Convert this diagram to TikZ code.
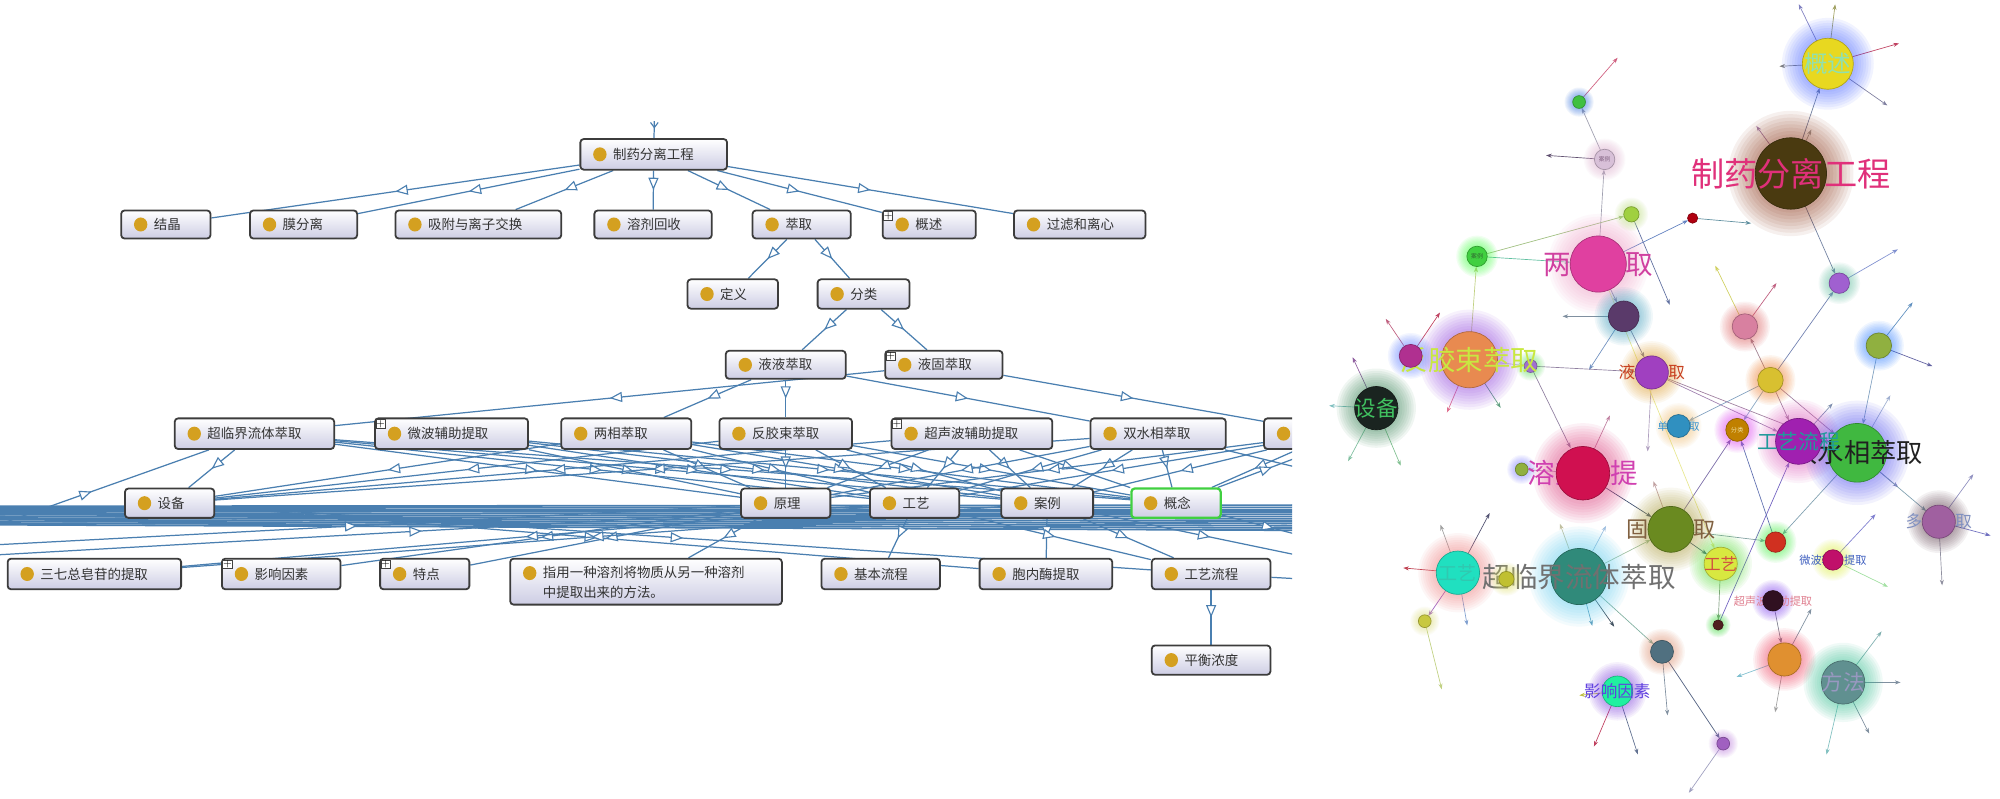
\documentclass[tikz,border=0pt]{standalone}
\usepackage{fontspec}
\newfontfamily\cjk{Noto Sans CJK SC}
\usetikzlibrary{arrows.meta,decorations.markings,calc}
\pgfdeclarelayer{bg}
\pgfdeclarelayer{edges}
\pgfsetlayers{bg,edges,main}
\definecolor{edgeb}{HTML}{4A7FB0}
\definecolor{goldc}{HTML}{D4A020}
\definecolor{boxline}{HTML}{3C3C3C}
\definecolor{boxbot}{HTML}{CDCDE4}
\definecolor{lbt}{HTML}{333333}
\definecolor{greenb}{HTML}{40D040}
\tikzset{
  edge/.style={edgeb, line width=0.55pt},
  midarr/.style={postaction={decorate}, decoration={markings, mark=at position 0.5 with {\arrow{Triangle[fill=white, length=5.5pt, width=4.5pt, line width=0.5pt]}}}},
  leftbox/.style={draw=boxline, line width=0.8pt, rounded corners=1.5pt, top color=white, bottom color=boxbot, inner sep=0pt},
  lbtext/.style={text=lbt, font=\cjk\fontsize{6}{9}\selectfont, inner sep=0pt},
  plusbox/.style={draw=black!75, fill=white, line width=0.3pt, minimum size=0.13cm, inner sep=0pt, font=\fontsize{4}{4}\selectfont},
  spk/.style={line width=0.3pt, -{Stealth[length=2.5pt,width=1.8pt]}},
}
\newcommand\mkbox[6]{%
  \node[leftbox, minimum width={(#3-#2)*0.02cm}, minimum height={(#5-#4)*0.02cm}] (#1) at ({(#2+#3)/2},{(#4+#5)/2}) {};
  \fill[goldc] ($(#1.west)+(16,0)$) ellipse[x radius=0.105cm, y radius=0.11cm];
  \node[lbtext, anchor=west] (#1t) at ($(#1.west)+(26,0)$) {#6};
}
\newcommand\mkplus[1]{\node[plusbox] (#1p) at ($(#1.north west)+(5,5)$) {+};}
\newcommand\gglow[3]{\definecolor{gtmp}{HTML}{#3}\foreach \k in {1,...,8}{\fill[gtmp,opacity=0.07] (#1) circle[radius={(#2+\k*(0.4+0.08*#2))*0.02cm}];}}
\newcommand\gcirc[3]{\definecolor{gtmp}{HTML}{#3}\fill[gtmp, draw=gtmp!75!black, line width=0.3pt] (#1) circle[radius={#2*0.02cm}];}
\newcommand\glab[5]{\definecolor{gtmp}{HTML}{#3}\node[text=gtmp, font=\cjk\fontsize{#2}{#2}\selectfont, inner sep=0pt] (#5) at (#1) {#4};}
\newcommand\spoke[4]{\definecolor{gtmp}{HTML}{#4}\draw[spk, gtmp] (#1) -- ++(#2:#3);}
\newcommand\conn[4]{\definecolor{gtmp}{HTML}{#4}\draw[spk, gtmp, shorten >={#3*0.02cm}] (#1) -- (#2);}
\begin{document}
\begin{tikzpicture}[x=0.02cm,y=-0.02cm]
\useasboundingbox (0,0) rectangle (1568,626);
\begin{pgfonlayer}{bg}
\fill[white] (0,0) rectangle (1568,626);
\end{pgfonlayer}

% ================= LEFT TREE =================
\begin{scope}
\clip (0,0) rectangle (1013,626);
\mkbox{root}{455}{570}{109}{133}{制药分离工程}
\mkbox{jj}{95}{165}{165}{187}{结晶}
\mkbox{mf}{196}{280}{165}{187}{膜分离}
\mkbox{xf}{310}{440}{165}{187}{吸附与离子交换}
\mkbox{rj}{466}{558}{165}{187}{溶剂回收}
\mkbox{cq}{590}{667}{165}{187}{萃取}
\mkbox{gs}{692}{765}{165}{187}{概述}\mkplus{gs}
\mkbox{gl}{795}{898}{165}{187}{过滤和离心}
\mkbox{dy}{539}{610}{219}{242}{定义}
\mkbox{fl}{641}{713}{219}{242}{分类}
\mkbox{yy}{569}{663}{275}{297}{液液萃取}
\mkbox{yg}{694}{786}{275}{297}{液固萃取}\mkplus{yg}
\mkbox{cl}{137}{262}{328}{352}{超临界流体萃取}
\mkbox{wb}{294}{414}{328}{352}{微波辅助提取}\mkplus{wb}
\mkbox{lx}{440}{542}{328}{352}{两相萃取}
\mkbox{fj}{564}{668}{328}{352}{反胶束萃取}
\mkbox{cs}{699}{825}{328}{352}{超声波辅助提取}\mkplus{cs}
\mkbox{sx}{855}{961}{328}{352}{双水相萃取}
\mkbox{px}{991}{1100}{328}{352}{}
\mkbox{sb}{98}{168}{383}{406}{设备}
\mkbox{yl}{581}{651}{383}{406}{原理}
\mkbox{gy}{682}{752}{383}{406}{工艺}
\mkbox{al}{785}{857}{383}{406}{案例}
\node[leftbox, draw=greenb, line width=1pt, minimum width={70*0.02cm}, minimum height={23*0.02cm}] (gn) at (922,394.5) {};
\fill[goldc] ($(gn.west)+(16,0)$) ellipse[x radius=0.105cm, y radius=0.11cm];
\node[lbtext, anchor=west] (gnt) at ($(gn.west)+(26,0)$) {概念};
\mkbox{sq}{6}{142}{438}{462}{三七总皂苷的提取}
\mkbox{yx}{174}{267}{438}{462}{影响因素}\mkplus{yx}
\mkbox{td}{298}{368}{438}{462}{特点}\mkplus{td}
\node[leftbox, minimum width={213*0.02cm}, minimum height={36*0.02cm}] (zy) at (506.5,456) {};
\fill[goldc] ($(zy.north west)+(16,12)$) ellipse[x radius=0.105cm, y radius=0.11cm];
\node[lbtext, anchor=north west, align=left] (zyt) at ($(zy.north west)+(26,6)$) {指用一种溶剂将物质从另一种溶剂\\中提取出来的方法。};
\mkbox{jb}{644}{737}{438}{462}{基本流程}
\mkbox{bn}{768}{872}{438}{462}{胞内酶提取}
\mkbox{gl2}{903}{996}{438}{462}{工艺流程}
\mkbox{ph}{903}{996}{506}{529}{平衡浓度}
\coordinate (rtop) at (513,95);
\foreach \i in {0,...,11} {
  \coordinate (bl\i) at (-20,{397+\i*1.3});
  \coordinate (br\i) at (1040,{396+\i*1.8});
}
\coordinate (blA) at (-20,418);
\coordinate (blB) at (-20,428);
\coordinate (blC) at (-20,436);
\coordinate (brA) at (1040,350);
\coordinate (brB) at (1040,372);
\coordinate (brC) at (1040,425);
\coordinate (brD) at (1040,440);
\coordinate (brE) at (1040,455);
\end{scope}

\begin{pgfonlayer}{edges}
\begin{scope}
\clip (0,0) rectangle (1013,626);
\draw[edge] (rtop) -- (root);
\draw[edgeb, line width=0.5pt] (510,96) -- (513,100) -- (516,96);
\foreach \c in {jj,mf,xf,rj,cq,gs,gl} \draw[edge,midarr] (root) -- (\c);
\draw[edge,midarr] (cq) -- (dy);
\draw[edge,midarr] (cq) -- (fl);
\draw[edge,midarr] (fl) -- (yy);
\draw[edge,midarr] (fl) -- (yg);
\draw[edge,midarr] (yy) -- (lx);
\draw[edge,midarr] (yy) -- (fj);
\draw[edge,midarr] (yy) -- (sx);
\draw[edge,midarr] (yg) -- (cl);
\draw[edge,midarr] (yg) -- (px);
\draw[edge,midarr] (cl) -- (sb);
\foreach \a in {cl,wb,lx,fj,cs,sx,px}
  \foreach \b in {yl,gy,al,gn}
    \draw[edge,midarr] (\a) -- (\b);
\foreach \a in {lx,fj,cs,sx} \draw[edge,midarr] (\a) -- (sb);
\foreach \i in {0,...,11} \draw[edge, line width=0.8pt] (bl\i) -- (br\i);
\draw[edge,midarr] (blA) -- (cl);
\draw[edge,midarr] (blB) -- (yl);
\draw[edge,midarr] (blC) -- (gy);
\draw[edge,midarr] (sb) -- (gl2);
\draw[edge,midarr] (sb) -- (bn);
\draw[edge,midarr] (yl) -- (zy);
\draw[edge,midarr] (yl) -- (td);
\draw[edge,midarr] (yl) -- (yx);
\draw[edge,midarr] (gy) -- (jb);
\draw[edge,midarr] (gy) -- (sq);
\draw[edge,midarr] (al) -- (sq);
\draw[edge,midarr] (al) -- (bn);
\draw[edge,midarr] (gy) -- (gl2);
\draw[edge,midarr] (al) -- (gl2);
\draw[edge,midarr] (gl2) -- (ph);
\draw[edge,midarr] (gn) -- (brA);
\draw[edge,midarr] (gn) -- (brC);
\draw[edge,midarr] (al) -- (brD);
\draw[edge] (gl2) -- (brE);
\draw[edge] (sx) -- (brB);
\end{scope}
\end{pgfonlayer}

% ================= RIGHT GRAPH =================
\coordinate (gsN) at (1433,50);
\coordinate (zyN) at (1404,136);
\coordinate (alA) at (1258,125);
\coordinate (smG) at (1238,80);
\coordinate (lxN) at (1253,207);
\coordinate (alB) at (1158,201);
\coordinate (lgA) at (1279,168);
\coordinate (rdA) at (1327,171);
\coordinate (dpA) at (1273,248);
\coordinate (fjN) at (1152,282);
\coordinate (mgA) at (1106,279);
\coordinate (sbN) at (1079,320);
\coordinate (yyN) at (1295,292);
\coordinate (ppA) at (1200,287);
\coordinate (pkA) at (1368,256);
\coordinate (ylA) at (1388,298);
\coordinate (olA) at (1473,271);
\coordinate (puA) at (1442,222);
\coordinate (dxN) at (1316,334);
\coordinate (flN) at (1362,337);
\coordinate (gylN) at (1410,346);
\coordinate (sxN) at (1456,355);
\coordinate (rjN) at (1241,371);
\coordinate (oyA) at (1193,368);
\coordinate (gyN) at (1310,415);
\coordinate (dsN) at (1520,409);
\coordinate (gyL) at (1143,449);
\coordinate (clN) at (1238,452);
\coordinate (ylB) at (1181,454);
\coordinate (gyR) at (1349,442);
\coordinate (rdB) at (1392,425);
\coordinate (wbN) at (1437,439);
\coordinate (csN) at (1390,471);
\coordinate (rdC) at (1347,490);
\coordinate (ywA) at (1117,487);
\coordinate (gbA) at (1303,511);
\coordinate (ylN) at (1399,517);
\coordinate (ffN) at (1445,535);
\coordinate (yxN) at (1268,542);
\coordinate (spA) at (1351,583);

% spokes
\spoke{gsN}{-116}{52}{8080C0}\spoke{gsN}{-83}{47}{A0A060}\spoke{gsN}{-16}{58}{C04060}\spoke{gsN}{35}{57}{8080A0}\spoke{gsN}{177}{38}{808080}
\spoke{zyN}{-126}{46}{A080B0}\spoke{zyN}{-65}{38}{A0A0A0}
\spoke{puA}{-30}{53}{8090D0}
\spoke{alA}{184}{46}{605070}
\spoke{smG}{-49}{46}{D06080}
\spoke{lgA}{67}{77}{6070A0}
\spoke{rdA}{5}{46}{6090A0}
\spoke{dpA}{180}{48}{8090A0}\spoke{dpA}{123}{50}{7090C0}
\spoke{mgA}{-124}{35}{C06080}\spoke{mgA}{-56}{41}{C04060}
\spoke{fjN}{113}{45}{E07090}\spoke{fjN}{57}{45}{60A080}
\spoke{sbN}{183}{37}{80C0C0}\spoke{sbN}{-115}{44}{9060A0}\spoke{sbN}{118}{47}{80C0A0}\spoke{sbN}{67}{49}{80C090}
\spoke{yyN}{93}{62}{B0A0C0}
\spoke{pkA}{-116}{53}{D0D060}\spoke{pkA}{-54}{42}{C06080}
\spoke{olA}{-52}{43}{6090C0}\spoke{olA}{21}{45}{6060A0}
\spoke{dsN}{-54}{46}{9090C0}\spoke{dsN}{15}{42}{7070C0}\spoke{dsN}{87}{50}{9090A0}
\spoke{gyL}{185}{43}{C04050}\spoke{gyL}{-110}{40}{A0A0A0}\spoke{gyL}{-62}{53}{505070}\spoke{gyL}{80}{42}{80A0D0}
\spoke{clN}{-110}{44}{C0C0A0}\spoke{clN}{-62}{45}{A0C0E0}\spoke{clN}{75}{40}{60A0C0}\spoke{clN}{55}{48}{405060}
\spoke{wbN}{-47}{49}{8080D0}\spoke{wbN}{26}{48}{A0E0A0}
\spoke{ylN}{-62}{45}{8090A0}\spoke{ylN}{160}{40}{80C0D0}\spoke{ylN}{100}{42}{A0A0A0}
\spoke{ffN}{-53}{50}{80B0B0}\spoke{ffN}{0}{45}{8090A0}\spoke{ffN}{63}{45}{8090A0}\spoke{ffN}{103}{58}{80C0C0}
\spoke{yxN}{174}{30}{C0C040}\spoke{yxN}{113}{47}{C04060}\spoke{yxN}{72}{52}{607090}
\spoke{gbA}{85}{50}{8090A0}
\spoke{ywA}{76}{55}{C0D080}
\spoke{spA}{125}{47}{A0A0C0}
\spoke{gylN}{-48}{40}{8090B0}
\spoke{sxN}{-60}{52}{A0B0D0}\spoke{sxN}{40}{42}{8080C0}
\spoke{rjN}{-65}{50}{C080A0}
\spoke{gyN}{-110}{40}{C0A0A0}
% connections
\conn{zyN}{gsN}{20}{7080A0}
\conn{zyN}{puA}{8}{7080A0}
\conn{lxN}{alA}{8}{A0A0B0}
\conn{alA}{smG}{5}{A0A0B0}
\conn{alB}{lxN}{22}{60C0A0}
\conn{alB}{lgA}{6}{A0C080}
\conn{fjN}{alB}{8}{C0D080}
\conn{lxN}{rdA}{4}{6080C0}
\conn{lxN}{dpA}{12}{8080A0}
\conn{dpA}{yyN}{13}{8080A0}
\conn{ppA}{yyN}{13}{9080A0}
\conn{fjN}{ppA}{5}{C0C0D0}
\conn{ppA}{rjN}{22}{9080A0}
\conn{yyN}{gylN}{18}{A080B0}
\conn{yyN}{sxN}{23}{A080A0}
\conn{ylA}{pkA}{10}{A08090}
\conn{ylA}{puA}{8}{7080B0}
\conn{ylA}{dxN}{9}{80A0C0}
\conn{ylA}{flN}{9}{80A0C0}
\conn{ylA}{gylN}{18}{A080A0}
\conn{ylA}{sxN}{23}{A080A0}
\conn{olA}{sxN}{23}{80A0C0}
\conn{rjN}{gyN}{18}{405070}
\conn{rjN}{oyA}{5}{C0A0C0}
\conn{gyN}{flN}{9}{7060A0}
\conn{gyN}{gyR}{13}{406080}
\conn{gyN}{rdB}{8}{80A0A0}
\conn{sxN}{dsN}{13}{80A0B0}
\conn{sxN}{rdB}{8}{80A0B0}
\conn{clN}{gyN}{18}{A0C0A0}
\conn{clN}{gbA}{9}{80B0A0}
\conn{gyL}{ywA}{5}{A060C0}
\conn{gyR}{rdC}{4}{80A080}
\conn{csN}{ylN}{13}{808090}
\conn{rdC}{gylN}{18}{7060C0}
\conn{gbA}{spA}{5}{506080}
\conn{lxN}{gyR}{13}{E8E890}
\conn{rdB}{flN}{9}{6070B0}

% glows
\gglow{gsN}{20}{4060FF}
\gglow{zyN}{28}{8A3010}
\gglow{alA}{8}{E0B0D0}
\gglow{smG}{5}{3070E0}
\gglow{lxN}{22}{F0A0C8}
\gglow{alB}{8}{40FF40}
\gglow{lgA}{6}{C0E080}
\gglow{dpA}{12}{40A0C0}
\gglow{fjN}{22}{9040E0}
\gglow{mgA}{9}{6080FF}
\gglow{sbN}{17}{308050}
\gglow{yyN}{13}{E0A030}
\gglow{ppA}{5}{60E060}
\gglow{pkA}{10}{E06060}
\gglow{ylA}{10}{F08030}
\gglow{olA}{10}{3080FF}
\gglow{puA}{8}{60C0A0}
\gglow{dxN}{9}{F0C070}
\gglow{flN}{9}{E040F0}
\gglow{gylN}{18}{E060C0}
\gglow{sxN}{23}{5050F0}
\gglow{rjN}{22}{E04080}
\gglow{oyA}{5}{8080FF}
\gglow{gyN}{18}{B0A040}
\gglow{dsN}{13}{604050}
\gglow{gyL}{17}{F08080}
\gglow{clN}{22}{60D0F0}
\gglow{gyR}{13}{60E040}
\gglow{rdB}{8}{40F040}
\gglow{wbN}{8}{E0F040}
\gglow{csN}{8}{8040F0}
\gglow{rdC}{4}{40E040}
\gglow{ywA}{5}{E0E080}
\gglow{gbA}{9}{E09070}
\gglow{ylN}{13}{F04060}
\gglow{ffN}{17}{30C090}
\gglow{yxN}{12}{8040E0}
\gglow{spA}{5}{C080E0}

% labels under circles
\glab{lxN}{12.3}{D040A0}{两相萃取}{Llx}
\glab{yyN}{7.4}{C84020}{液液萃取}{Lyy}
\glab{gyN}{9.9}{806040}{固液萃取}{Lgy}
\glab{rjN}{12.3}{D040B0}{溶剂浸提}{Lrj}
\glab{dsN}{7.4}{8090C0}{多相萃取}{Lds}
\glab{wbN}{5}{4060C0}{微波辅助提取}{Lwb}
\glab{csN}{5}{E08090}{超声波辅助提取}{Lcs}
\glab{dxN}{4.7}{3090D0}{单相萃取}{Ldx}

% circles
\gcirc{gsN}{20}{E8D820}
\gcirc{zyN}{28}{4A3A10}
\gcirc{alA}{8}{D8C0D8}
\gcirc{smG}{5}{40C040}
\gcirc{lxN}{22}{E040A0}
\gcirc{alB}{8}{40D040}
\gcirc{lgA}{6}{A0D040}
\gcirc{rdA}{4}{B00010}
\gcirc{dpA}{12}{5A3A6A}
\gcirc{fjN}{22}{E88A50}
\gcirc{sbN}{17}{1A2420}
\gcirc{yyN}{13}{A040C0}
\gcirc{ppA}{5}{A070D0}
\gcirc{pkA}{10}{D880A0}
\gcirc{ylA}{10}{D8C030}
\gcirc{olA}{10}{90B040}
\gcirc{puA}{8}{A060D0}
\gcirc{dxN}{9}{3090C0}
\gcirc{flN}{9}{C08000}
\gcirc{sxN}{23}{40B840}
\gcirc{rjN}{21}{D01050}
\gcirc{oyA}{5}{90B040}
\gcirc{gyN}{18}{6A8A20}
\gcirc{dsN}{13}{A060A0}
\gcirc{gyL}{17}{20E0C0}
\gcirc{clN}{22}{308A7A}
\gcirc{gyR}{13}{D8E840}
\gcirc{rdB}{8}{D03020}
\gcirc{wbN}{8}{C0106A}
\gcirc{csN}{8}{301020}
\gcirc{rdC}{4}{502020}
\gcirc{ywA}{5}{C8C840}
\gcirc{gbA}{9}{507080}
\gcirc{ylN}{13}{E09030}
\gcirc{ffN}{17}{609090}
\gcirc{yxN}{12}{20F0A0}
\gcirc{spA}{5}{A060C0}

% labels over circles
\glab{zyN}{14.8}{E0307A}{制药分离工程}{Lzy}
\glab{gsN}{10.5}{90E0B0}{概述}{Lgs}
\glab{fjN}{12.3}{C8E840}{反胶束萃取}{Lfj}
\gcirc{mgA}{9}{B03090}
\glab{sbN}{9.6}{40C060}{设备}{Lsb}
\glab{sxN}{11.7}{202020}{双水相萃取}{Lsx}
\gcirc{gylN}{18}{A020B0}
\glab{gylN}{9.2}{209A9A}{工艺流程}{Lgyl}
\glab{clN}{12.3}{707070}{超临界流体萃取}{Lcl}
\gglow{ylB}{6}{E0E060}
\gcirc{ylB}{6}{C0C030}
\glab{gyL}{8.5}{30C8B0}{工艺}{LgyL}
\glab{gyR}{7.4}{D05040}{工艺}{LgyR}
\glab{ffN}{9.6}{9898C0}{方法}{Lff}
\glab{yxN}{7.4}{6040E0}{影响因素}{Lyx}
\glab{alA}{2.6}{806080}{案例}{LalA}
\glab{alB}{2.6}{306030}{案例}{LalB}
\glab{flN}{2.8}{F0E0A0}{分类}{Lfl}
\end{tikzpicture}
\end{document}
